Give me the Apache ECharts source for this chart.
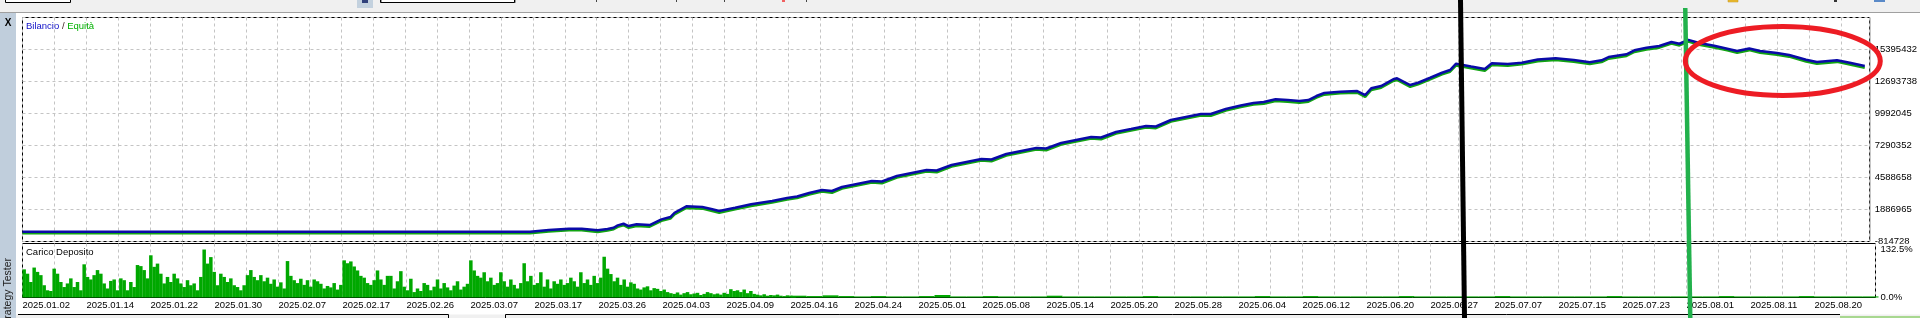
<!DOCTYPE html>
<html><head><meta charset="utf-8">
<script src="https://cdn.jsdelivr.net/npm/echarts@6/dist/echarts.min.js"></script>
<style>html,body{margin:0;padding:0;background:#fff;overflow:hidden}#c{width:1920px;height:318px}</style>
</head><body><div id="c"></div>
<script>
// ---------- data ----------
const xDateLabels = ['2025.01.02','2025.01.14','2025.01.22','2025.01.30','2025.02.07','2025.02.17','2025.02.26','2025.03.07','2025.03.17','2025.03.26','2025.04.03','2025.04.09','2025.04.16','2025.04.24','2025.05.01','2025.05.08','2025.05.14','2025.05.20','2025.05.28','2025.06.04','2025.06.12','2025.06.20','2025.06.27','2025.07.07','2025.07.15','2025.07.23','2025.08.01','2025.08.11','2025.08.20'];
const yTickLabels = ['-814728','1886965','4588658','7290352','9992045','12693738','15395432'];
const yMin = -814728;
const yStep = 2701693.3333;
const loadTickLabels = ['0.0%','132.5%'];
const loadTickValues = [0, 132.5];

// position along the tester timeline (1 unit = one grid column)
const balanceX = [0,15.91,15.94,16.5,17.13,17.53,18.03,18.34,18.53,18.66,18.84,19.0,19.25,19.66,20.03,20.31,20.44,20.81,21.31,21.59,21.84,22.34,22.84,
23.5,23.97,24.28,24.66,25.06,25.375,25.69,26.16,26.625,26.94,27.41,27.875,28.34,28.66,29.125,29.59,30.06,30.375,30.84,31.31,31.78,32.09,32.56,33.03,33.5,33.81,34.28,34.75,35.22,35.53,36.0,36.47,36.94,37.25,37.72,38.19,38.59,38.91,
39.28,39.66,40.03,40.31,40.56,40.81,41.31,41.84,42.09,42.28,42.59,42.97,43.09,43.5,43.75,44.13,44.5,44.75,44.94,45.41,45.84,46.06,46.56,47.0,47.5,48.06,48.63,49.13,49.5,49.72,50.28,50.53,50.91,51.31,51.69,51.94,52.22,52.56,53.03,53.44,53.75,54.13,54.47,55.0,55.38,55.91,56.25,56.88,57.28,57.75];
const balanceV = [10000,10000,69000,153000,263000,263000,128000,238000,348000,550000,685000,491000,634000,575000,1056000,1250000,1613000,2153000,2094000,1925000,1756000,2035000,2322000,
2605000,2858000,2985000,3280000,3533000,3449000,3787000,4040000,4293000,4251000,4715000,4969000,5222000,5180000,5644000,5897000,6151000,6108000,6573000,6826000,7079000,7037000,7501000,7755000,8008000,7966000,8430000,8683000,8937000,8894000,9443000,9697000,9950000,9950000,10372000,10667000,10879000,10963000,
11191000,11129000,11045000,11129000,11467000,11720000,11830000,11889000,11551000,12117000,12311000,12877000,12961000,12396000,12590000,13012000,13434000,13662000,14194000,13957000,13746000,14228000,14169000,14278000,14549000,14650000,14506000,14312000,14481000,14760000,14988000,15325000,15545000,15688000,16026000,15882000,16211000,15941000,15714000,15460000,15266000,15477000,15266000,15097000,14929000,14524000,14337000,14489000,14278000,14000000];
const equityV = [-110000,-110000,-50000,30000,140000,140000,-10000,110000,220000,420000,560000,340000,500000,440000,930000,1120000,1480000,2020000,1960000,1780000,1600000,1900000,2190000,
2475000,2730000,2850000,3150000,3400000,3300000,3660000,3910000,4160000,4100000,4590000,4840000,5090000,5030000,5510000,5770000,6020000,5960000,6440000,6700000,6950000,6890000,7370000,7620000,7880000,7820000,8300000,8550000,8800000,8750000,9310000,9560000,9820000,9800000,10240000,10530000,10750000,10820000,
11050000,10990000,10900000,10990000,11330000,11580000,11700000,11750000,11400000,11980000,12170000,12740000,12820000,12240000,12450000,12870000,13300000,13520000,14050000,13820000,13600000,14090000,14020000,14140000,14410000,14510000,14370000,14170000,14340000,14620000,14850000,15190000,15400000,15550000,15890000,15740000,16070000,15800000,15570000,15320000,15120000,15340000,15120000,14960000,14790000,14380000,14200000,14350000,14130000,13850000];

// deposit load (%), active phase, one value per deal slot
const loadActive = [78,66,43,83,71,62,34,20,18,80,66,43,29,39,53,29,43,20,92,57,50,62,76,66,39,25,46,50,20,53,48,20,43,29,90,87,76,53,117,85,94,66,39,57,43,66,53,39,29,48,34,39,20,57,133,94,112,71,34,66,57,43,53,34,29,20,34,62,76,57,48,62,
45,55,38,50,30,42,25,101,60,48,40,52,35,48,30,50,45,38,25,32,28,40,22,35,103,95,100,86,75,60,55,40,35,48,75,50,35,60,60,25,45,73,30,20,52,15,25,18,40,35,20,30,50,25,40,28,20,33,45,22,30,38,103,75,60,55,70,45,55,35,40,70,45,30,50,35,25,40,95,45,60,35,40,70,30,50,25,45,38,50,35,40,55,45,30,70,40,50,35,60,40,55,113,80,65,45,55,35,50,30,42,38,
25,22,28,31,20,26,24,18,22,15,12,10,14,8,12,15,9,11,13,7,10,15,12,9,11,8,13,10,23,18,20,15,22,12,18,10,8,6,9,5,7,6,8,5,4,6,5,4];
const loadActiveStep = 0.10417;
// deposit load (%), later phase
const loadTail = [5,4,6,4,3,4,3,3,4,7,3,3,4,3,3,3,5,3,3,3,3,3,4,3,3,3,3,3,3,4,3,3,4,3,3,3,3,3,4,3,3,3,3,3,4,3,3,3,3,3,3,4,3,3,3,3,3,3,4,3,3,3,3,4,3,3,3,3];
const loadTailStart = 24.25, loadTailStep = 0.5;

// ---------- chart ----------
const FONT = 'Liberation Sans, Arial, sans-serif';
const FS = 9.5;
const X_MAX = 1853 / 32;
const GRID_L = 22.5, GRID_W = 1853;
const gridLine = {show: true, lineStyle: {color: '#c4c4c4', type: [3, 3], width: 1}};

const chart = echarts.init(document.getElementById('c'), null, {renderer: 'canvas'});
const balanceData = balanceX.map((x, i) => [x, balanceV[i]]);
const equityData = balanceX.map((x, i) => [x, equityV[i]]);
const loadAData = loadActive.map((v, i) => [(i + 0.5) * loadActiveStep, v]);
const loadTData = loadTail.map((v, i) => [loadTailStart + i * loadTailStep, v]);

chart.setOption({
  animation: false,
  backgroundColor: '#ffffff',
  textStyle: {fontFamily: FONT},
  title: [
    {text: '{b|Bilancio} {s|/} {e|Equità}', left: 26, top: 21, padding: 0,
     textStyle: {fontSize: FS, fontWeight: 'normal', fontFamily: FONT,
       rich: {b: {color: '#1010c8', fontSize: FS, fontFamily: FONT}, s: {color: '#402020', fontSize: FS, fontFamily: FONT}, e: {color: '#00b000', fontSize: FS, fontFamily: FONT}}}},
    {text: 'Carico Deposito', left: 26, top: 247.5, padding: 0,
     textStyle: {fontSize: FS, fontWeight: 'normal', color: '#000', fontFamily: FONT}}
  ],
  grid: [
    {left: GRID_L, top: 17.5, width: GRID_W, height: 224, show: true, borderColor: '#000', borderWidth: 1, backgroundColor: 'transparent'},
    {left: GRID_L, top: 243.5, width: GRID_W, height: 54, show: true, borderColor: '#000', borderWidth: 1, backgroundColor: 'transparent'}
  ],
  xAxis: [
    {gridIndex: 0, type: 'value', min: 0, max: X_MAX, interval: 1,
     axisLine: {show: false}, axisTick: {show: false}, axisLabel: {show: false}, splitLine: gridLine},
    {gridIndex: 1, type: 'value', min: 0, max: X_MAX, interval: 1,
     axisLine: {show: false}, axisTick: {show: false}, splitLine: gridLine,
     axisLabel: {show: true, align: 'left', margin: 3, fontSize: FS, color: '#000', fontFamily: FONT,
       showMinLabel: true, showMaxLabel: false,
       formatter: v => { const k = Math.round(v); if (Math.abs(v - k) > 1e-6 || k % 2) return ''; return xDateLabels[k / 2] || ''; }}},
    {gridIndex: 1, type: 'value', min: 0, max: X_MAX, show: false}
  ],
  yAxis: [
    {gridIndex: 0, type: 'value', position: 'right', min: yMin, max: yMin + 7 * yStep, interval: yStep,
     axisLine: {show: false}, axisTick: {show: false}, splitLine: gridLine,
     axisLabel: {margin: 5, fontSize: FS, color: '#000', fontFamily: FONT, showMaxLabel: false,
       formatter: v => { const i = Math.round((v - yMin) / yStep); return yTickLabels[i] || ''; }}},
    {gridIndex: 1, type: 'value', position: 'right', min: 0, max: 149.7, interval: 132.5,
     axisLine: {show: false}, axisTick: {show: false}, splitLine: {show: false},
     axisLabel: {margin: 5, fontSize: FS, color: '#000', fontFamily: FONT, showMaxLabel: false,
       backgroundColor: '#fff', padding: [1, 2, 1, 0],
       formatter: v => { const i = loadTickValues.findIndex(t => Math.abs(t - v) < 1e-6); return i >= 0 ? loadTickLabels[i] : ''; }}}
  ],
  series: [
    {name: 'Equità', type: 'line', xAxisIndex: 0, yAxisIndex: 0, data: equityData, showSymbol: false, z: 2,
     lineStyle: {color: '#12a412', width: 2.5}, itemStyle: {color: '#12a412'}},
    {name: 'Bilancio', type: 'line', xAxisIndex: 0, yAxisIndex: 0, data: balanceData, showSymbol: false, z: 3,
     lineStyle: {color: '#0a0aa8', width: 2.5}, itemStyle: {color: '#0a0aa8'}},
    {name: 'Carico Deposito', type: 'bar', xAxisIndex: 1, yAxisIndex: 1, data: loadAData, barWidth: 3.5,
     itemStyle: {color: '#00a800'}},
    {name: 'Carico Deposito ', type: 'bar', xAxisIndex: 2, yAxisIndex: 1, data: loadTData, barWidth: 16,
     itemStyle: {color: '#00a800'}}
  ],
  graphic: [
    // toolbar strip
    {type: 'rect', z: 50, shape: {x: 0, y: 0, width: 1920, height: 12}, style: {fill: '#f0f0f0'}},
    {type: 'line', z: 51, shape: {x1: 0, y1: 12.5, x2: 1920, y2: 12.5}, style: {stroke: '#a0a0a0', lineWidth: 1}},
    {type: 'rect', z: 51, shape: {x: 5.5, y: -6, width: 65, height: 8.5}, style: {fill: '#fff', stroke: '#000', lineWidth: 1}},
    {type: 'rect', z: 51, shape: {x: 357, y: 0, width: 16, height: 8}, style: {fill: '#c3d1de'}},
    {type: 'rect', z: 52, shape: {x: 362, y: 0, width: 6, height: 3}, style: {fill: '#30407a'}},
    {type: 'rect', z: 51, shape: {x: 380.5, y: -6, width: 134, height: 8.5}, style: {fill: '#fff', stroke: '#000', lineWidth: 1, shadowColor: '#999', shadowOffsetX: 1}},
    {type: 'line', z: 51, shape: {x1: 596.5, y1: 0, x2: 596.5, y2: 2}, style: {stroke: '#444'}},
    {type: 'line', z: 51, shape: {x1: 676.5, y1: 0, x2: 676.5, y2: 2}, style: {stroke: '#444'}},
    {type: 'line', z: 51, shape: {x1: 724.5, y1: 0, x2: 724.5, y2: 2}, style: {stroke: '#444'}},
    {type: 'line', z: 51, shape: {x1: 806.5, y1: 0, x2: 806.5, y2: 2}, style: {stroke: '#444'}},
    {type: 'rect', z: 51, shape: {x: 782, y: 0, width: 3, height: 2}, style: {fill: '#f06060'}},
    {type: 'rect', z: 51, shape: {x: 1728, y: 0, width: 10, height: 2}, style: {fill: '#f0c030', stroke: '#c09020', lineWidth: 0.5}},
    {type: 'rect', z: 51, shape: {x: 1834, y: 0, width: 3, height: 2}, style: {fill: '#333'}},
    {type: 'rect', z: 51, shape: {x: 1874, y: 0, width: 11, height: 2}, style: {fill: '#5a8ac8'}},
    // left strip
    {type: 'rect', z: 50, shape: {x: 0, y: 13, width: 16, height: 305}, style: {fill: '#c0cedc'}},
    {type: 'text', z: 51, x: 8, y: 23.5, style: {text: 'X', font: 'bold 10px ' + FONT, fill: '#000', align: 'center', verticalAlign: 'middle'}},
    {type: 'text', z: 51, x: 8.5, y: 258, rotation: Math.PI / 2, style: {text: 'Strategy Tester', font: '10.5px ' + FONT, fill: '#222', align: 'right', verticalAlign: 'middle'}},
    // bottom panel edges
    {type: 'rect', z: 50, shape: {x: 16, y: 314.5, width: 1904, height: 4}, style: {fill: '#f0f0f0'}},
    {type: 'polyline', z: 51, shape: {points: [[18, 314.5], [448.5, 314.5], [448.5, 318]]}, style: {stroke: '#000', lineWidth: 1, fill: null}},
    {type: 'polyline', z: 51, shape: {points: [[505.5, 318], [505.5, 314.5], [1840, 314.5]]}, style: {stroke: '#000', lineWidth: 1, fill: null}},
    {type: 'line', z: 51, shape: {x1: 1840, y1: 317, x2: 1920, y2: 317}, style: {stroke: '#a8d890', lineWidth: 2}},
    // hand-drawn marks
    {type: 'polygon', z: 100, shape: {points: [[1458, 0], [1463, 0], [1467, 318], [1462, 318]]}, style: {fill: '#000'}},
    {type: 'polygon', z: 100, shape: {points: [[1683, 8], [1687.5, 8], [1692.5, 318], [1688, 318]]}, style: {fill: '#22b14c'}},
    {type: 'ellipse', z: 100, shape: {cx: 1782.8, cy: 61, rx: 97.5, ry: 34.5}, style: {fill: null, stroke: '#ed1c24', lineWidth: 5}}
  ]
});
</script>
</body></html>
